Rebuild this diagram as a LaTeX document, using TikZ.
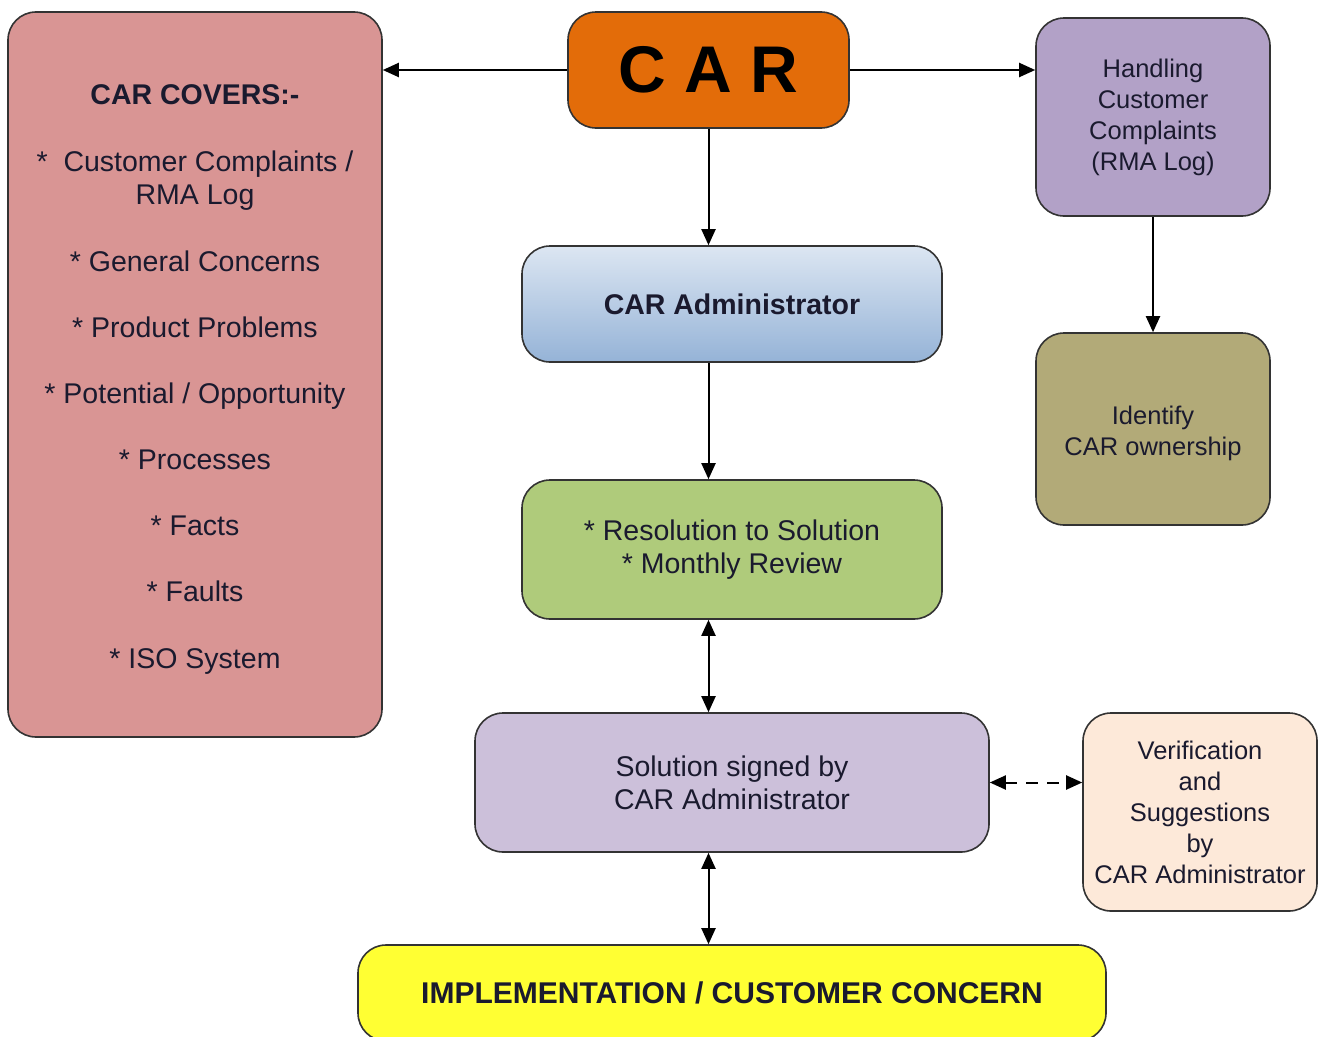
\documentclass[tikz,border=0pt]{standalone}
\usepackage{fontspec}
\setmainfont{Liberation Sans}
\usetikzlibrary{arrows.meta}
\definecolor{coversc}{HTML}{D99594}
\definecolor{carc}{HTML}{E36C09}
\definecolor{handc}{HTML}{B2A1C7}
\definecolor{identc}{HTML}{B2AA78}
\definecolor{admintop}{HTML}{DCE6F2}
\definecolor{adminbot}{HTML}{95B3D7}
\definecolor{resc}{HTML}{AFCB7B}
\definecolor{solc}{HTML}{CCC0DA}
\definecolor{verc}{HTML}{FDE9D9}
\definecolor{implc}{HTML}{FFFF33}
\definecolor{txtc}{HTML}{1A1A2E}
\definecolor{edgec}{HTML}{333333}
\begin{document}
\begin{tikzpicture}[x=1pt,y=-1pt,
  box/.style={draw=edgec, line width=1.6pt, rounded corners=28pt, align=center,
    inner sep=0pt, text=txtc},
  conn/.style={line width=2pt, -{Triangle[length=16pt,width=14pt]}},
  biconn/.style={line width=2pt, {Triangle[length=16pt,width=14pt]}-{Triangle[length=16pt,width=14pt]}},
  txtA/.style={font=\fontsize{28.5}{33}\selectfont},
  txtB/.style={font=\fontsize{25.5}{31}\selectfont}]
\useasboundingbox (0,0) rectangle (1319,1036);
\fill[white] (0,0) rectangle (1319,1036);

\node[box, txtA, fill=coversc, minimum width=374pt, minimum height=725pt] (covers) at (195,374.5)
 {\mbox{}\\[-3pt]
  \textbf{CAR COVERS:-}\\[34pt]
  *~~Customer Complaints /\\ RMA Log\\[34pt]
  * General Concerns\\[33pt]
  * Product Problems\\[33pt]
  * Potential / Opportunity\\[33pt]
  * Processes\\[33pt]
  * Facts\\[33pt]
  * Faults\\[34pt]
  * ISO System};

\node[box, fill=carc, minimum width=281pt, minimum height=116pt,
  font=\fontsize{66}{70}\selectfont\bfseries, text=black] (car) at (708.5,70) {C A R};

\node[box, txtB, fill=handc, minimum width=234pt, minimum height=198pt] (hand) at (1153,117)
 {Handling\\Customer\\Complaints\\(RMA Log)};

\node[box, txtB, fill=identc, minimum width=234pt, minimum height=192pt] (ident) at (1153,429)
 {\mbox{}\\[-3pt]Identify\\CAR ownership};

\node[box, txtA, top color=admintop, bottom color=adminbot, minimum width=420pt, minimum height=116pt] (admin) at (732,304)
 {\textbf{CAR Administrator}};

\node[box, txtA, fill=resc, minimum width=420pt, minimum height=139pt] (res) at (732,549.5)
 {* Resolution to Solution\\* Monthly Review};

\node[box, txtA, fill=solc, minimum width=514pt, minimum height=139pt] (sol) at (732,782.5)
 {Solution signed by\\CAR Administrator};

\node[box, txtB, fill=verc, minimum width=234pt, minimum height=198pt] (ver) at (1200,812)
 {Verification\\and\\Suggestions\\by\\CAR Administrator};

\node[box, fill=implc, minimum width=748pt, minimum height=96pt,
  font=\fontsize{30}{33}\selectfont\bfseries] (impl) at (732,993)
 {IMPLEMENTATION / CUSTOMER CONCERN};

\draw[conn] (car.west) -- (car.west -| covers.east);
\draw[conn] (car.east) -- (car.east -| hand.west);
\draw[conn] (car.south) -- (car.south |- admin.north);
\draw[conn] (car.south |- admin.south) -- (car.south |- res.north);
\draw[biconn] (car.south |- res.south) -- (car.south |- sol.north);
\draw[biconn] (car.south |- sol.south) -- (car.south |- impl.north);
\draw[biconn, dash pattern=on 12pt off 9pt] (sol.east) -- (sol.east -| ver.west);
\draw[conn] (hand.south) -- (ident.north);
\end{tikzpicture}
\end{document}
